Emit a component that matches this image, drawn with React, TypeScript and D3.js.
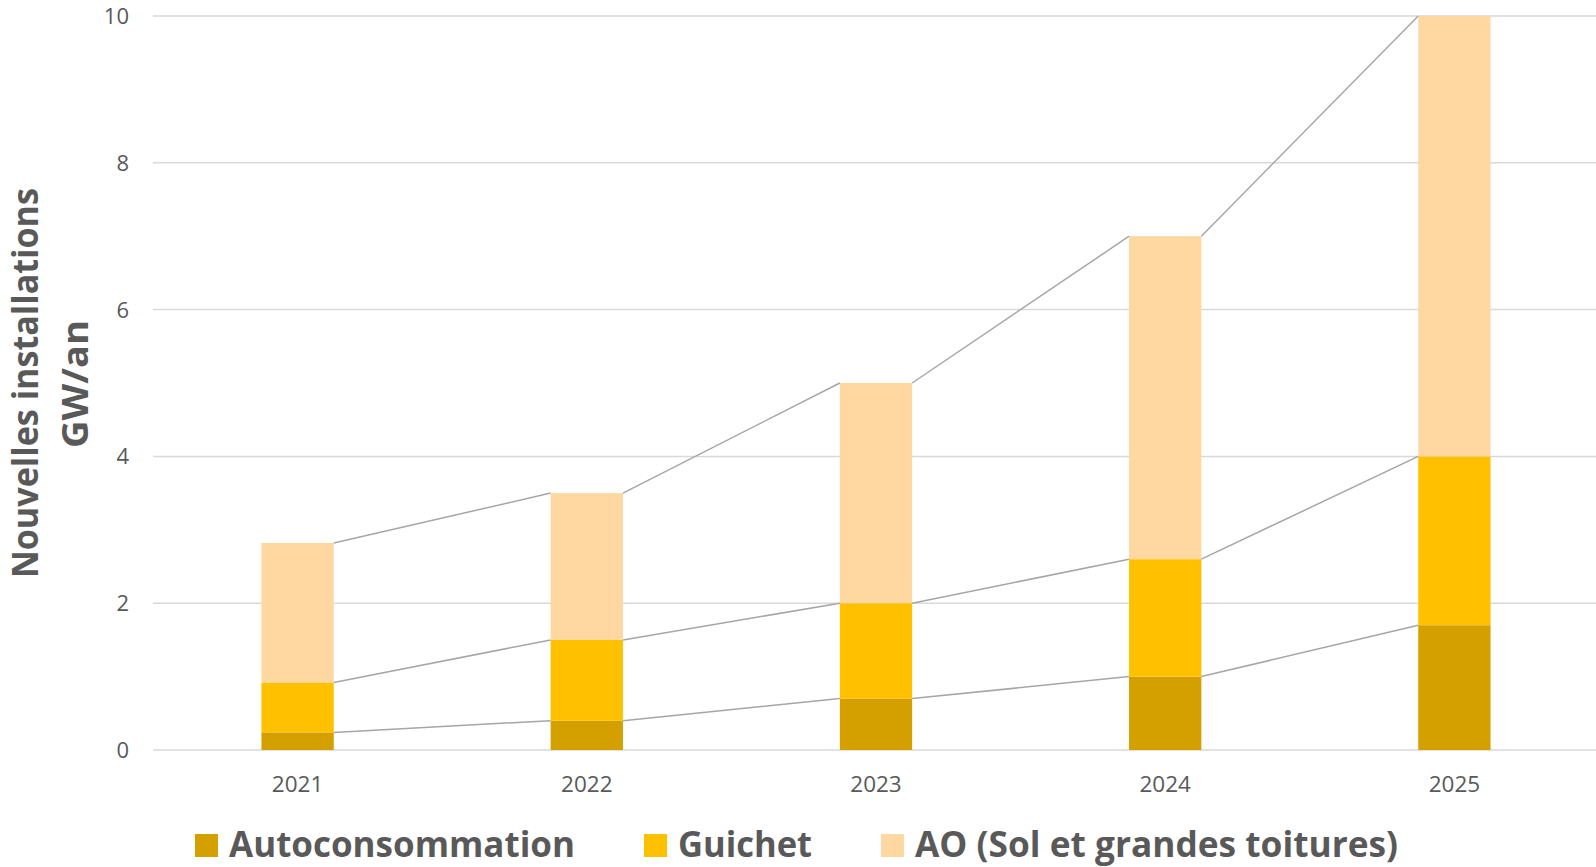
import React from "react";
import * as d3 from "d3";

const years = ["2021", "2022", "2023", "2024", "2025"];
const autoconsommation = [0.24, 0.4, 0.7, 1.0, 1.7];
const guichet = [0.68, 1.1, 1.3, 1.6, 2.3];
const ao = [1.9, 2.0, 3.0, 4.4, 6.0];
const seriesNames = ["Autoconsommation", "Guichet", "AO (Sol et grandes toitures)"];
const seriesColors = ["#D4A000", "#FFC000", "#FED8A0"];
const yTicks = [0, 2, 4, 6, 8, 10];
const yTitle = ["Nouvelles installations", "GW/an"];

const W = 1596;
const H = 867;

export default function App() {
  const x = d3.scalePoint<string>().domain(years).range([153, 1599]).padding(0.5);
  const step = x.step();
  const bw = step * 0.25;
  const y = d3.scaleLinear().domain([0, 10]).range([750, 16]);

  const rows = years.map((yr, i) => ({
    year: yr,
    Autoconsommation: autoconsommation[i],
    Guichet: guichet[i],
    "AO (Sol et grandes toitures)": ao[i],
  }));
  const stacked = d3.stack<any>().keys(seriesNames)(rows);

  const font = "'Open Sans', 'Noto Sans', sans-serif";
  const textColor = "#595959";

  const legendItems = [
    { sq: 195, tx: 229, tl: 346 },
    { sq: 644, tx: 678, tl: 134 },
    { sq: 881, tx: 915, tl: 483 },
  ];

  return (
    <svg width={W} height={H} style={{ position: "absolute", left: 0, top: 0, background: "#fff" }}>
      <rect x={0} y={0} width={W} height={H} fill="#fff" />
      {yTicks.map((t) => (
        <g key={t}>
          <line x1={153} x2={W} y1={y(t)} y2={y(t)} stroke="#D9D9D9" strokeWidth={1.5} />
          <text x={129} y={y(t)} dy="0.36em" textAnchor="end" fontFamily={font} fontSize={22} fill={textColor}>
            {t}
          </text>
        </g>
      ))}
      {stacked.map((s, si) => (
        <g key={s.key}>
          {s.map((d, i) => (
            <rect
              key={i}
              x={(x(years[i]) as number) - bw / 2}
              y={y(d[1])}
              width={bw}
              height={y(d[0]) - y(d[1])}
              fill={seriesColors[si]}
            />
          ))}
        </g>
      ))}
      {stacked.map((s) => (
        <g key={"l" + s.key}>
          {s.slice(0, -1).map((d, i) => (
            <line
              key={i}
              x1={(x(years[i]) as number) + bw / 2}
              y1={y(d[1])}
              x2={(x(years[i + 1]) as number) - bw / 2}
              y2={y(s[i + 1][1])}
              stroke="#A6A6A6"
              strokeWidth={1.5}
            />
          ))}
        </g>
      ))}
      {years.map((yr) => (
        <text key={yr} x={x(yr)} y={792} textAnchor="middle" fontFamily={font} fontSize={22.5} fill={textColor}>
          {yr}
        </text>
      ))}
      <text
        transform="translate(37.5,383) rotate(-90)"
        textAnchor="middle"
        fontFamily={font}
        fontWeight="bold"
        fontSize={36}
        fill={textColor}
        textLength={390}
        lengthAdjust="spacingAndGlyphs"
      >
        {yTitle[0]}
      </text>
      <text
        transform="translate(87.5,384) rotate(-90)"
        textAnchor="middle"
        fontFamily={font}
        fontWeight="bold"
        fontSize={36}
        fill={textColor}
        textLength={128}
        lengthAdjust="spacingAndGlyphs"
      >
        {yTitle[1]}
      </text>
      {seriesNames.map((name, i) => (
        <g key={name}>
          <rect x={legendItems[i].sq} y={834} width={23} height={23} fill={seriesColors[i]} />
          <text
            x={legendItems[i].tx}
            y={857}
            fontFamily={font}
            fontWeight="bold"
            fontSize={36}
            fill={textColor}
            textLength={legendItems[i].tl}
            lengthAdjust="spacingAndGlyphs"
          >
            {name}
          </text>
        </g>
      ))}
    </svg>
  );
}
